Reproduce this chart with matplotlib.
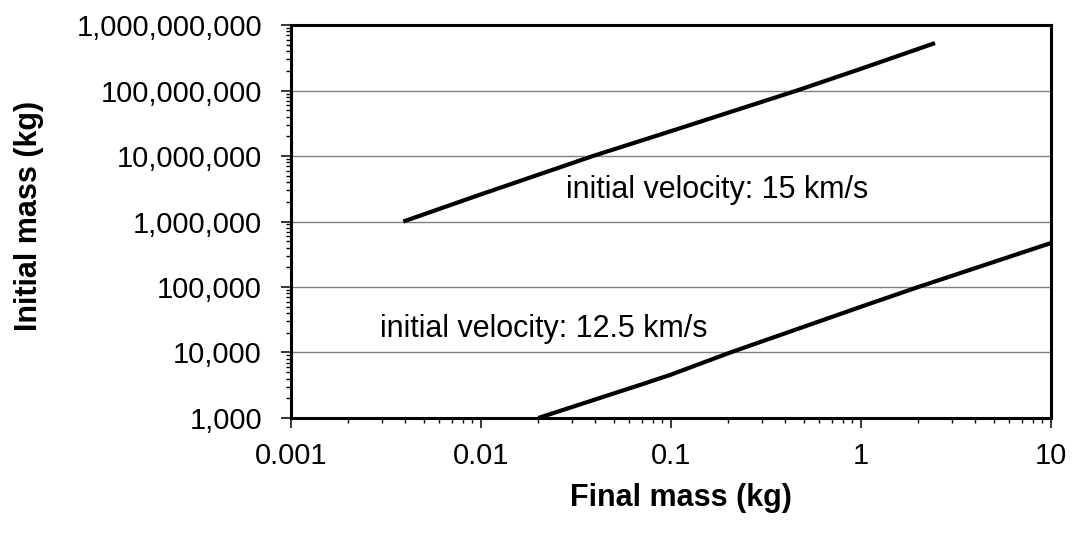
"""Initial vs final mass for two initial velocities (log-log)."""
import matplotlib
matplotlib.use("Agg")
import matplotlib.pyplot as plt
from matplotlib.ticker import FuncFormatter, LogLocator, NullFormatter

# values
final_15 = [0.0039, 0.01, 0.0388, 0.1, 0.46, 1.0, 2.45]
initial_15 = [1.0e6, 2.6e6, 1.0e7, 2.4e7, 1.0e8, 2.15e8, 5.3e8]

final_125 = [0.02, 0.0687, 0.1, 0.205, 1.0, 2.0, 10.0]
initial_125 = [1.0e3, 3.2e3, 4.6e3, 1.0e4, 5.0e4, 1.0e5, 4.7e5]

y_ticks = [1e3, 1e4, 1e5, 1e6, 1e7, 1e8, 1e9]

label_15 = "initial velocity: 15 km/s"
label_125 = "initial velocity: 12.5 km/s"

plt.rcParams["font.family"] = ["Liberation Sans", "DejaVu Sans"]

fig = plt.figure(figsize=(10.72, 5.39), dpi=100)
ax = fig.add_axes([0.2715, 0.2245, 0.709, 0.7291])

ax.set_xscale("log")
ax.set_yscale("log")
ax.set_xlim(0.001, 10)
ax.set_ylim(1e3, 1e9)

for yv in y_ticks[1:-1]:
    ax.axhline(yv, color="#808080", lw=1.0, zorder=1)

ax.plot(final_15, initial_15, color="black", lw=3.0, solid_capstyle="butt", zorder=3)
ax.plot(final_125, initial_125, color="black", lw=3.0, solid_capstyle="butt", zorder=3)

ax.text(0.028, 2.29e6, label_15, fontsize=22, ha="left", va="baseline")
ax.text(0.00294, 1.73e4, label_125, fontsize=22, ha="left", va="baseline")

ax.xaxis.set_major_locator(LogLocator(base=10, numticks=10))
ax.yaxis.set_major_locator(LogLocator(base=10, numticks=10))
ax.xaxis.set_minor_locator(LogLocator(base=10, subs=range(2, 10), numticks=20))
ax.yaxis.set_minor_locator(LogLocator(base=10, subs=range(2, 10), numticks=20))
ax.xaxis.set_minor_formatter(NullFormatter())
ax.yaxis.set_minor_formatter(NullFormatter())
ax.xaxis.set_major_formatter(FuncFormatter(lambda v, _: f"{v:g}"))
ax.yaxis.set_major_formatter(FuncFormatter(lambda v, _: f"{int(round(v)):,}"))

ax.tick_params(which="major", direction="out", length=7, width=1.1, labelsize=21,
               colors="black")
ax.tick_params(which="minor", direction="out", length=3.5, width=1.0)
ax.tick_params(axis="y", which="major", pad=14)
ax.tick_params(axis="x", which="major", pad=10)

for s in ax.spines.values():
    s.set_linewidth(2.2)
    s.set_color("black")

ax.set_xlabel("Final mass (kg)", fontsize=22, fontweight="bold")
ax.set_ylabel("Initial mass (kg)", fontsize=22, fontweight="bold")
ax.xaxis.set_label_coords(0.513, -0.165)
ax.yaxis.set_label_coords(-0.325, 0.515)

fig.savefig("out.png", dpi=100)
